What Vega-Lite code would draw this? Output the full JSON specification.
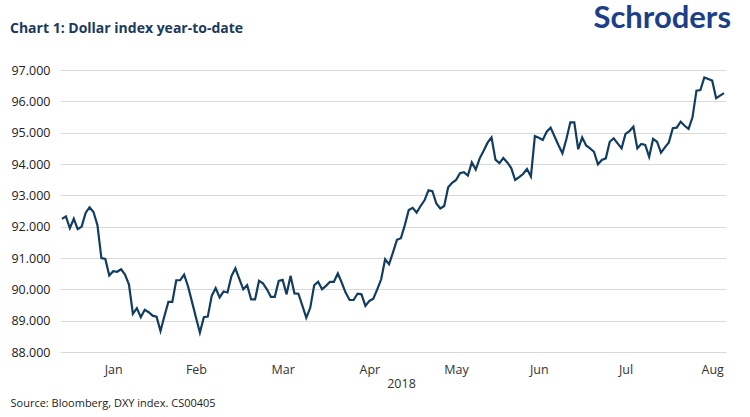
{
  "$schema": "https://vega.github.io/schema/vega-lite/v6.json",
  "autosize": "none",
  "width": 680,
  "height": 282,
  "padding": {"left": 60, "top": 70, "right": 10, "bottom": 65},
  "background": "white",
  "title": {
    "text": "Chart 1: Dollar index year-to-date",
    "anchor": "start",
    "frame": "group",
    "dx": -50,
    "offset": -33,
    "font": "Open Sans",
    "fontSize": 14,
    "fontWeight": "bold",
    "color": "#1b3a5c"
  },
  "config": {
    "view": {"stroke": null},
    "font": "Open Sans"
  },
  "resolve": {"axis": {"x": "independent", "y": "independent"}},
  "layer": [
    {
      "data": {
        "values": [
          {"date": "2017-12-29", "dxy": 92.25},
          {"date": "2018-01-01", "dxy": 92.33},
          {"date": "2018-01-02", "dxy": 91.95},
          {"date": "2018-01-03", "dxy": 92.25},
          {"date": "2018-01-04", "dxy": 91.92},
          {"date": "2018-01-05", "dxy": 92.0},
          {"date": "2018-01-08", "dxy": 92.44},
          {"date": "2018-01-09", "dxy": 92.62},
          {"date": "2018-01-10", "dxy": 92.47},
          {"date": "2018-01-11", "dxy": 92.05},
          {"date": "2018-01-12", "dxy": 91.0},
          {"date": "2018-01-15", "dxy": 90.97},
          {"date": "2018-01-16", "dxy": 90.44},
          {"date": "2018-01-17", "dxy": 90.58},
          {"date": "2018-01-18", "dxy": 90.56},
          {"date": "2018-01-19", "dxy": 90.64},
          {"date": "2018-01-22", "dxy": 90.47},
          {"date": "2018-01-23", "dxy": 90.15},
          {"date": "2018-01-24", "dxy": 89.22},
          {"date": "2018-01-25", "dxy": 89.4},
          {"date": "2018-01-26", "dxy": 89.11},
          {"date": "2018-01-29", "dxy": 89.35},
          {"date": "2018-01-30", "dxy": 89.27},
          {"date": "2018-01-31", "dxy": 89.16},
          {"date": "2018-02-01", "dxy": 89.13},
          {"date": "2018-02-02", "dxy": 88.67},
          {"date": "2018-02-05", "dxy": 89.15},
          {"date": "2018-02-06", "dxy": 89.6},
          {"date": "2018-02-07", "dxy": 89.6},
          {"date": "2018-02-08", "dxy": 90.29},
          {"date": "2018-02-09", "dxy": 90.29},
          {"date": "2018-02-12", "dxy": 90.47},
          {"date": "2018-02-13", "dxy": 90.09},
          {"date": "2018-02-14", "dxy": 89.6},
          {"date": "2018-02-15", "dxy": 89.1},
          {"date": "2018-02-16", "dxy": 88.62},
          {"date": "2018-02-19", "dxy": 89.11},
          {"date": "2018-02-20", "dxy": 89.13},
          {"date": "2018-02-21", "dxy": 89.79},
          {"date": "2018-02-22", "dxy": 90.04},
          {"date": "2018-02-23", "dxy": 89.74},
          {"date": "2018-02-26", "dxy": 89.93},
          {"date": "2018-02-27", "dxy": 89.9},
          {"date": "2018-02-28", "dxy": 90.42},
          {"date": "2018-03-01", "dxy": 90.67},
          {"date": "2018-03-02", "dxy": 90.33},
          {"date": "2018-03-05", "dxy": 90.0},
          {"date": "2018-03-06", "dxy": 90.13},
          {"date": "2018-03-07", "dxy": 89.68},
          {"date": "2018-03-08", "dxy": 89.68},
          {"date": "2018-03-09", "dxy": 90.27},
          {"date": "2018-03-12", "dxy": 90.19},
          {"date": "2018-03-13", "dxy": 90.0},
          {"date": "2018-03-14", "dxy": 89.76},
          {"date": "2018-03-15", "dxy": 89.76},
          {"date": "2018-03-16", "dxy": 90.27},
          {"date": "2018-03-19", "dxy": 90.3},
          {"date": "2018-03-20", "dxy": 89.84},
          {"date": "2018-03-21", "dxy": 90.43},
          {"date": "2018-03-22", "dxy": 89.87},
          {"date": "2018-03-23", "dxy": 89.86},
          {"date": "2018-03-26", "dxy": 89.48},
          {"date": "2018-03-27", "dxy": 89.09},
          {"date": "2018-03-28", "dxy": 89.41},
          {"date": "2018-03-29", "dxy": 90.13},
          {"date": "2018-03-30", "dxy": 90.24},
          {"date": "2018-04-02", "dxy": 90.0},
          {"date": "2018-04-03", "dxy": 90.11},
          {"date": "2018-04-04", "dxy": 90.24},
          {"date": "2018-04-05", "dxy": 90.24},
          {"date": "2018-04-06", "dxy": 90.51},
          {"date": "2018-04-09", "dxy": 90.21},
          {"date": "2018-04-10", "dxy": 89.89},
          {"date": "2018-04-11", "dxy": 89.66},
          {"date": "2018-04-12", "dxy": 89.66},
          {"date": "2018-04-13", "dxy": 89.86},
          {"date": "2018-04-16", "dxy": 89.84},
          {"date": "2018-04-17", "dxy": 89.47},
          {"date": "2018-04-18", "dxy": 89.63},
          {"date": "2018-04-19", "dxy": 89.7},
          {"date": "2018-04-20", "dxy": 90.0},
          {"date": "2018-04-23", "dxy": 90.32},
          {"date": "2018-04-24", "dxy": 90.96},
          {"date": "2018-04-25", "dxy": 90.8},
          {"date": "2018-04-26", "dxy": 91.18},
          {"date": "2018-04-27", "dxy": 91.58},
          {"date": "2018-04-30", "dxy": 91.63},
          {"date": "2018-05-01", "dxy": 92.05},
          {"date": "2018-05-02", "dxy": 92.53},
          {"date": "2018-05-03", "dxy": 92.6},
          {"date": "2018-05-04", "dxy": 92.45},
          {"date": "2018-05-07", "dxy": 92.66},
          {"date": "2018-05-08", "dxy": 92.84},
          {"date": "2018-05-09", "dxy": 93.16},
          {"date": "2018-05-10", "dxy": 93.13},
          {"date": "2018-05-11", "dxy": 92.74},
          {"date": "2018-05-14", "dxy": 92.58},
          {"date": "2018-05-15", "dxy": 92.66},
          {"date": "2018-05-16", "dxy": 93.26},
          {"date": "2018-05-17", "dxy": 93.4},
          {"date": "2018-05-18", "dxy": 93.49},
          {"date": "2018-05-21", "dxy": 93.71},
          {"date": "2018-05-22", "dxy": 93.74},
          {"date": "2018-05-23", "dxy": 93.63},
          {"date": "2018-05-24", "dxy": 94.05},
          {"date": "2018-05-25", "dxy": 93.82},
          {"date": "2018-05-28", "dxy": 94.18},
          {"date": "2018-05-29", "dxy": 94.42},
          {"date": "2018-05-30", "dxy": 94.68},
          {"date": "2018-05-31", "dxy": 94.85},
          {"date": "2018-06-01", "dxy": 94.14},
          {"date": "2018-06-04", "dxy": 94.03},
          {"date": "2018-06-05", "dxy": 94.19},
          {"date": "2018-06-06", "dxy": 94.05},
          {"date": "2018-06-07", "dxy": 93.87},
          {"date": "2018-06-08", "dxy": 93.49},
          {"date": "2018-06-11", "dxy": 93.58},
          {"date": "2018-06-12", "dxy": 93.68},
          {"date": "2018-06-13", "dxy": 93.84},
          {"date": "2018-06-14", "dxy": 93.6},
          {"date": "2018-06-15", "dxy": 94.89},
          {"date": "2018-06-18", "dxy": 94.84},
          {"date": "2018-06-19", "dxy": 94.77},
          {"date": "2018-06-20", "dxy": 95.03},
          {"date": "2018-06-21", "dxy": 95.16},
          {"date": "2018-06-22", "dxy": 94.88},
          {"date": "2018-06-25", "dxy": 94.6},
          {"date": "2018-06-26", "dxy": 94.34},
          {"date": "2018-06-27", "dxy": 94.8},
          {"date": "2018-06-28", "dxy": 95.33},
          {"date": "2018-06-29", "dxy": 95.33},
          {"date": "2018-07-02", "dxy": 94.47},
          {"date": "2018-07-03", "dxy": 94.85},
          {"date": "2018-07-04", "dxy": 94.59},
          {"date": "2018-07-05", "dxy": 94.5},
          {"date": "2018-07-06", "dxy": 94.39},
          {"date": "2018-07-09", "dxy": 93.99},
          {"date": "2018-07-10", "dxy": 94.13},
          {"date": "2018-07-11", "dxy": 94.18},
          {"date": "2018-07-12", "dxy": 94.71},
          {"date": "2018-07-13", "dxy": 94.82},
          {"date": "2018-07-16", "dxy": 94.66},
          {"date": "2018-07-17", "dxy": 94.5},
          {"date": "2018-07-18", "dxy": 94.96},
          {"date": "2018-07-19", "dxy": 95.05},
          {"date": "2018-07-20", "dxy": 95.19},
          {"date": "2018-07-23", "dxy": 94.5},
          {"date": "2018-07-24", "dxy": 94.64},
          {"date": "2018-07-25", "dxy": 94.61},
          {"date": "2018-07-26", "dxy": 94.23},
          {"date": "2018-07-27", "dxy": 94.8},
          {"date": "2018-07-30", "dxy": 94.71},
          {"date": "2018-07-31", "dxy": 94.36},
          {"date": "2018-08-01", "dxy": 94.53},
          {"date": "2018-08-02", "dxy": 94.69},
          {"date": "2018-08-03", "dxy": 95.14},
          {"date": "2018-08-06", "dxy": 95.16},
          {"date": "2018-08-07", "dxy": 95.35},
          {"date": "2018-08-08", "dxy": 95.22},
          {"date": "2018-08-09", "dxy": 95.12},
          {"date": "2018-08-10", "dxy": 95.49},
          {"date": "2018-08-13", "dxy": 96.34},
          {"date": "2018-08-14", "dxy": 96.36},
          {"date": "2018-08-15", "dxy": 96.76},
          {"date": "2018-08-16", "dxy": 96.71},
          {"date": "2018-08-17", "dxy": 96.66},
          {"date": "2018-08-20", "dxy": 96.1},
          {"date": "2018-08-21", "dxy": 96.18},
          {"date": "2018-08-22", "dxy": 96.26}
        ]
      },
      "mark": {"type": "line", "color": "#123d60", "strokeWidth": 2.2, "strokeJoin": "miter"},
      "encoding": {
        "x": {
          "field": "date",
          "type": "ordinal",
          "scale": {"type": "point", "range": [0, 666]},
          "axis": {
            "values": ["2018-01-17", "2018-02-15", "2018-03-19", "2018-04-18", "2018-05-18", "2018-06-18", "2018-07-18", "2018-08-17"],
            "labelExpr": "utcFormat(toDate(datum.value), '%b')",
            "labelAngle": 0,
            "labelAlign": "center",
            "labelBaseline": "top",
            "labelPadding": 11,
            "labelFont": "Open Sans",
            "labelFontSize": 12.5,
            "labelColor": "#333333",
            "ticks": false,
            "domain": false,
            "grid": false,
            "title": "2018",
            "titleFont": "Open Sans",
            "titleFontSize": 12.5,
            "titleFontWeight": "normal",
            "titleColor": "#333333",
            "titlePadding": 2,
            "titleX": 341
          }
        },
        "y": {
          "field": "dxy",
          "type": "quantitative",
          "scale": {"domain": [88, 97], "zero": false, "nice": false},
          "axis": {
            "orient": "left",
            "values": [88, 89, 90, 91, 92, 93, 94, 95, 96, 97],
            "labelOverlap": false,
            "labelBound": false,
            "format": ".3f",
            "labelFont": "Open Sans",
            "labelFontSize": 12.5,
            "labelColor": "#222222",
            "labelPadding": 10,
            "ticks": false,
            "domain": false,
            "grid": true,
            "gridColor": "#d9d9d9",
            "gridWidth": 1,
            "title": "Source: Bloomberg, DXY index. CS00405",
            "titleAngle": 0,
            "titleAlign": "left",
            "titleBaseline": "alphabetic",
            "titleX": -50,
            "titleY": 336,
            "titleFont": "Open Sans",
            "titleFontSize": 11,
            "titleFontWeight": "normal",
            "titleColor": "#222222"
          }
        }
      }
    },
    {
      "data": {"values": [{"brand": "Schroders"}]},
      "mark": {
        "type": "text",
        "align": "right",
        "baseline": "alphabetic",
        "dx": 7,
        "font": "Lato",
        "fontSize": 31,
        "fontWeight": "bold",
        "color": "#1c3f8a"
      },
      "encoding": {
        "x": {"datum": "2018-08-22", "type": "ordinal", "axis": null},
        "y": {"datum": 98.33, "type": "quantitative", "axis": null},
        "text": {"field": "brand"}
      }
    }
  ]
}
